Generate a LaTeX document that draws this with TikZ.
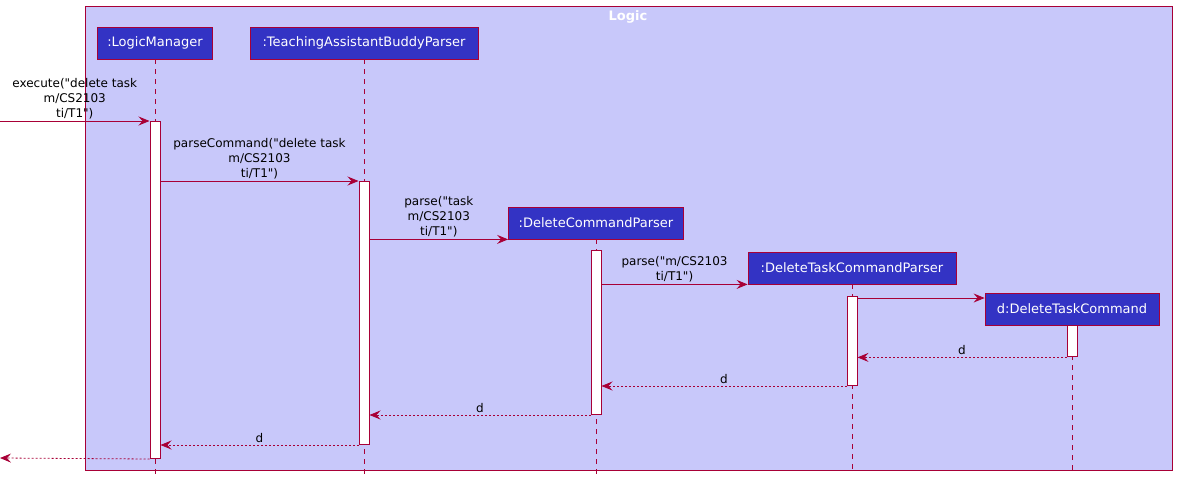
\documentclass[tikz,border=0pt]{standalone}
\usepackage{fontspec}
\setmainfont{DejaVu Sans}[Ligatures=TeXOff]
\usetikzlibrary{arrows.meta,positioning,calc}
\definecolor{umlred}{RGB}{168,0,54}
\definecolor{logicblue}{RGB}{51,51,196}
\definecolor{logicbg}{RGB}{200,200,250}

\begin{document}
\begin{tikzpicture}[x=1pt, y=-1pt,
    part/.style={rectangle, draw=umlred, line width=0.8pt, fill=logicblue, text=white,
      minimum height=32pt, inner sep=0pt, font=\fontsize{13}{15}\selectfont},
    act/.style={rectangle, draw=umlred, line width=1pt, fill=white, minimum width=10pt,
      inner sep=0pt, anchor=north},
    life/.style={umlred, line width=0.8pt, dash pattern=on 5pt off 5pt},
    msg/.style={-{Stealth[length=11pt, width=9pt, inset=4pt]}, umlred, line width=0.8pt},
    ret/.style={msg, dash pattern=on 2pt off 2pt},
    lbl/.style={midway, above, align=center, text=black, inner sep=2pt,
      font=\fontsize{12}{15}\selectfont}
  ]
    \useasboundingbox (0,0) rectangle (1177,482);

    % Frame
    \draw[umlred, fill=logicbg, line width=1pt] (85,6) rectangle (1172,470);
    \node[text=white, font=\fontsize{13}{15}\selectfont\bfseries] (title) at (628,17) {Logic};

    % Participants
    \node[part, minimum width=115pt] (lm)   at (155,43)  {:LogicManager};
    \node[part, minimum width=228pt] (tab)  at (364,43)  {:TeachingAssistantBuddyParser};
    \node[part, minimum width=175pt] (dcp)  at (596,223) {:DeleteCommandParser};
    \node[part, minimum width=208pt] (dtcp) at (852,268) {:DeleteTaskCommandParser};
    \node[part, minimum width=174pt] (dtc)  at (1072,309) {d:DeleteTaskCommand};

    % Lifelines
    \draw[life] (lm.south)   -- (lm.south |- 0,474);
    \draw[life] (tab.south)  -- (tab.south |- 0,474);
    \draw[life] (dcp.south)  -- (dcp.south |- 0,474);
    \draw[life] (dtcp.south) -- (dtcp.south |- 0,474);
    \draw[life] (dtc.south)  -- (dtc.south |- 0,474);

    % Activations
    \node[act, minimum height=337pt] (lmA)   at (155,121) {};
    \node[act, minimum height=263pt] (tabA)  at (364,181) {};
    \node[act, minimum height=164pt] (dcpA)  at (596,250) {};
    \node[act, minimum height=89pt]  (dtcpA) at (852,296) {};
    \node[act, minimum height=31pt]  (dtcA)  at (dtc.south) {};

    % Calls
    \coordinate (in) at (0,121);
    \draw[msg] (in) -- (lmA.north west)
      node[lbl] {execute("delete task\\m/CS2103\\ti/T1")};
    \draw[msg] (lmA.east |- tabA.north) -- (tabA.north west)
      node[lbl] {parseCommand("delete task\\m/CS2103\\ti/T1")};
    \draw[msg] (tabA.east |- dcp.south) -- (dcp.south west)
      node[lbl] {parse("task\\m/CS2103\\ti/T1")};
    \draw[msg] (dcpA.east |- dtcp.south) -- (dtcp.south west)
      node[lbl] {parse("m/CS2103\\ti/T1")};
    \draw[msg] ([yshift=-2pt]dtcpA.north east) -- ([yshift=-2pt]dtcpA.north east -| dtc.west);

    % Returns
    \draw[ret] (dtcA.south west)  -- (dtcpA.east |- dtcA.south)  node[lbl] {d};
    \draw[ret] (dtcpA.south west) -- (dcpA.east |- dtcpA.south) node[lbl] {d};
    \draw[ret] (dcpA.south west)  -- (tabA.east |- dcpA.south)  node[lbl] {d};
    \draw[ret] (tabA.south west)  -- (lmA.east |- tabA.south)   node[lbl] {d};
    \coordinate (out) at (0,458);
    \draw[ret] (lmA.south west) -- (out);
  \end{tikzpicture}
\end{document}
